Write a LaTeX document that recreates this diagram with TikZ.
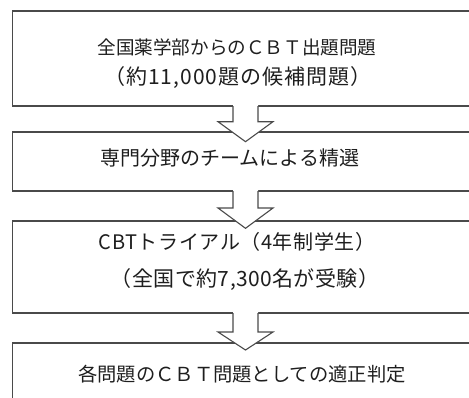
\documentclass[tikz,border=0pt]{standalone}
\usepackage{fontspec}
\newfontfamily\cjk{Noto Sans CJK JP}
\definecolor{linegray}{HTML}{4A4A4A}
\definecolor{textgray}{HTML}{1E1E1E}
\begin{document}
\begin{tikzpicture}[x=1pt,y=-1pt,
  box/.style={draw=linegray, line width=1.1pt, anchor=north west, inner sep=0pt, outer sep=0pt, minimum width=520pt},
  lbl/.style={text=textgray, inner sep=0pt},
  barrow/.style={draw=linegray, line width=1.1pt, line join=miter}]
\useasboundingbox (0,0) rectangle (469,397);
\clip (0,0) rectangle (469,397);
% boxes
\node[box, minimum height=95pt] (b1) at (12.7,11) {};
\node[box, minimum height=59pt] (b2) at (12.7,132) {};
\node[box, minimum height=92pt] (b3) at (12.7,221) {};
\node[box, minimum height=80pt] (b4) at (12.7,343) {};
% texts
\node[lbl, font=\cjk\fontsize{18.6}{22}\selectfont] (t1a) at (237,47) {全国薬学部からのＣＢＴ出題問題};
\node[lbl, font={\cjk\fontsize{21}{25}\selectfont\addfontfeature{LetterSpace=5}}] (t1b) at (238,78) {（約11,000題の候補問題）};
\node[lbl, font=\cjk\fontsize{20}{24}\selectfont] (t2) at (230,158) {専門分野のチームによる精選};
\node[lbl, font={\cjk\fontsize{20}{24}\selectfont\addfontfeature{LetterSpace=3}}] (t3a) at (237,242) {CBTトライアル（4年制学生）};
\node[lbl, font={\cjk\fontsize{21}{25}\selectfont\addfontfeature{LetterSpace=2}}] (t3b) at (245,280) {（全国で約7,300名が受験）};
\node[lbl, font=\cjk\fontsize{19.3}{23}\selectfont] (t4) at (242,374) {各問題のＣＢＴ問題としての適正判定};
% block arrows: from box (#1) to box (#2), head base y (#3), tip y (#4)
\newcommand\blockarrow[4]{%
  \coordinate (#1L) at (233,0 |- #1.south);
  \coordinate (#1R) at (258,0 |- #1.south);
  \fill[white] ([yshift=1pt]#1L) -- (233,#3) -- (218,#3) -- (245.5,#4) -- (273,#3) -- (258,#3) -- ([yshift=1pt]#1R) -- cycle;
  \draw[barrow] (#1L) -- (233,#3) -- (218,#3) -- (245.5,#4) -- (273,#3) -- (258,#3) -- (#1R);
}
\blockarrow{b1}{b2}{121.7}{141.7}
\blockarrow{b2}{b3}{208}{228.3}
\blockarrow{b3}{b4}{332}{350}
\end{tikzpicture}
\end{document}
